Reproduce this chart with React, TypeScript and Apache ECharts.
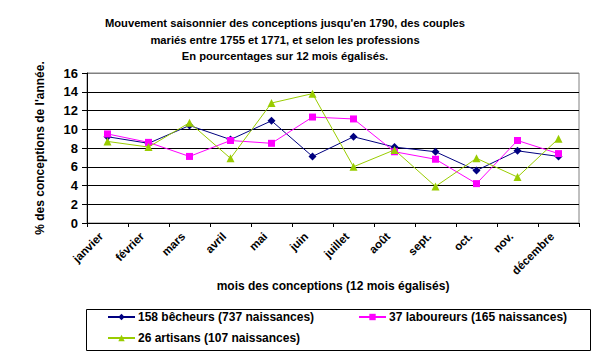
import React, { useEffect, useRef } from "react";
import * as echarts from "echarts";

const months = ["janvier", "février", "mars", "avril", "mai", "juin", "juillet", "août", "sept.", "oct.", "nov.", "décembre"];
const becheurs = [9.2, 8.5, 10.4, 8.9, 10.9, 7.1, 9.2, 8.1, 7.6, 5.6, 7.7, 7.1];
const laboureurs = [9.5, 8.6, 7.1, 8.8, 8.5, 11.3, 11.1, 7.6, 6.8, 4.2, 8.8, 7.4];
const artisans = [8.7, 8.1, 10.7, 6.9, 12.8, 13.8, 6.0, 7.8, 3.9, 6.9, 4.9, 9.0];
const seriesNames = ["158 bêcheurs (737 naissances)", "37 laboureurs (165 naissances)", "26 artisans (107 naissances)"];
const yTicks = [0, 2, 4, 6, 8, 10, 12, 14, 16];

const FONT = "'Liberation Sans', Arial, sans-serif";

export default function App() {
  const ref = useRef<HTMLDivElement>(null);
  useEffect(() => {
    if (!ref.current) return;
    const chart = echarts.init(ref.current, undefined, { renderer: "svg" });
    const txt = { fontFamily: FONT, fontWeight: "bold" as const, color: "#000" };
    const legendCommon = {
      orient: "horizontal" as const,
      itemWidth: 27,
      itemHeight: 8,
      itemGap: 0,
      padding: 0,
      textStyle: { ...txt, fontSize: 12, padding: [0, 0, 0, -2] },
    };
    chart.setOption({
      animation: false,
      backgroundColor: "#fff",
      title: {
        text: "Mouvement saisonnier des conceptions jusqu'en 1790, des couples\nmariés entre 1755 et 1771, et selon les professions\nEn pourcentages sur 12 mois égalisés.",
        left: 280,
        top: 10,
        textAlign: "center",
        textStyle: { ...txt, fontSize: 11.2, lineHeight: 16.5 },
      },
      grid: { left: 87, right: 16, top: 73, bottom: 131, show: true, borderColor: "#808080", borderWidth: 1 },
      xAxis: {
        type: "category",
        data: months,
        boundaryGap: true,
        name: "mois des conceptions (12 mois égalisés)",
        nameLocation: "middle",
        nameGap: 56,
        nameTextStyle: { ...txt, fontSize: 12 },
        axisLine: { lineStyle: { color: "#000", width: 1 } },
        axisTick: { show: true, length: 4, alignWithLabel: false, lineStyle: { color: "#000" } },
        axisLabel: { ...txt, fontSize: 11.5, rotate: 45, margin: 5, interval: 0, padding: [0, 9, 0, 0] },
        splitLine: { show: false },
      },
      yAxis: {
        type: "value",
        min: 0,
        max: 16,
        interval: 2,
        name: "% des conceptions de l'année.",
        nameLocation: "middle",
        nameGap: 41,
        nameTextStyle: { ...txt, fontSize: 12 },
        axisLine: { show: true, lineStyle: { color: "#000", width: 1 } },
        axisTick: { show: true, length: 5, inside: false, lineStyle: { color: "#000" } },
        axisLabel: { ...txt, fontSize: 13, margin: 9 },
        splitLine: { show: true, lineStyle: { color: yTicks.map((v) => (v === 16 ? "#808080" : "#000")), width: 1 } },
      },
      legend: [
        { ...legendCommon, data: [seriesNames[0]], left: 107, top: 311 },
        { ...legendCommon, data: [seriesNames[1]], left: 358, top: 311 },
        { ...legendCommon, data: [seriesNames[2]], left: 107, top: 332 },
      ],
      graphic: [
        { type: "rect", left: 84, top: 307, shape: { width: 504, height: 41 }, style: { fill: "none", stroke: "#000", lineWidth: 1 }, z: -1 },
      ],
      series: [
        {
          name: seriesNames[0],
          type: "line",
          data: becheurs,
          symbol: "diamond",
          symbolSize: 8,
          color: "#000080",
          lineStyle: { color: "#000080", width: 1 },
          itemStyle: { color: "#000080" },
          z: 3,
        },
        {
          name: seriesNames[1],
          type: "line",
          data: laboureurs,
          symbol: "rect",
          symbolSize: 7,
          color: "#FF00FF",
          lineStyle: { color: "#FF00FF", width: 1 },
          itemStyle: { color: "#FF00FF" },
          z: 4,
        },
        {
          name: seriesNames[2],
          type: "line",
          data: artisans,
          symbol: "triangle",
          symbolSize: 8,
          color: "#99CC00",
          lineStyle: { color: "#99CC00", width: 1 },
          itemStyle: { color: "#99CC00" },
          z: 5,
        },
      ],
    });
    return () => chart.dispose();
  }, []);
  return <div ref={ref} style={{ width: 595, height: 354, position: "absolute", left: 0, top: 0 }} />;
}
